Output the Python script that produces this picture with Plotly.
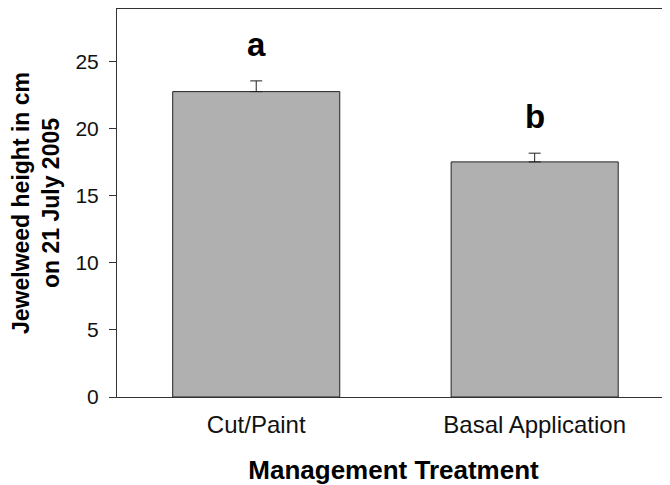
import plotly.graph_objects as go

categories = ["Cut/Paint", "Basal Application"]
means = [22.77, 17.53]
se = [0.80, 0.65]
letters = ["a", "b"]
y_ticks = [0, 5, 10, 15, 20, 25]

FONT = "Liberation Sans, Arial, sans-serif"

fig = go.Figure()
fig.add_trace(go.Bar(
    x=categories, y=means, width=0.6,
    marker=dict(color="#b0b0b0", line=dict(color="#222222", width=1)),
    error_y=dict(type="data", symmetric=False, array=se, arrayminus=[0]*len(se),
                 color="#222222", thickness=1, width=6),
))

for c, m, s, l in zip(categories, means, se, letters):
    fig.add_annotation(x=c, y=m + s, text="<b>%s</b>" % l, showarrow=False,
                       yanchor="bottom", yshift=16,
                       font=dict(family=FONT, size=33, color="black"))

# page has an 8px body margin, so the figure is sized to fill the rest of the window
fig.update_layout(
    width=662, height=477,
    margin=dict(l=108.5, r=0, t=1, b=88),
    paper_bgcolor="white", plot_bgcolor="white",
    showlegend=False,
    font=dict(family=FONT, color="black"),
    xaxis=dict(range=[-0.5, 1.486], showline=True, linecolor="#333333", linewidth=1,
               mirror=True, ticks="", showgrid=False, zeroline=False, automargin=False,
               tickfont=dict(size=24, color="#111111"), ticklabelstandoff=6,
               title=dict(text="<b>Management Treatment</b>", font=dict(size=26), standoff=27)),
    yaxis=dict(range=[0, 28.93], tickvals=y_ticks, showline=True, linecolor="#333333", linewidth=1,
               ticks="outside", ticklen=7, tickcolor="#333333", showgrid=False, zeroline=False,
               automargin=False,
               tickfont=dict(size=21, color="#111111"), ticklabelstandoff=6,
               title=dict(text="<b>Jewelweed height in cm<br>on 21 July 2005</b>",
                          font=dict(size=23), standoff=16)),
)

fig.write_html("out.html")
